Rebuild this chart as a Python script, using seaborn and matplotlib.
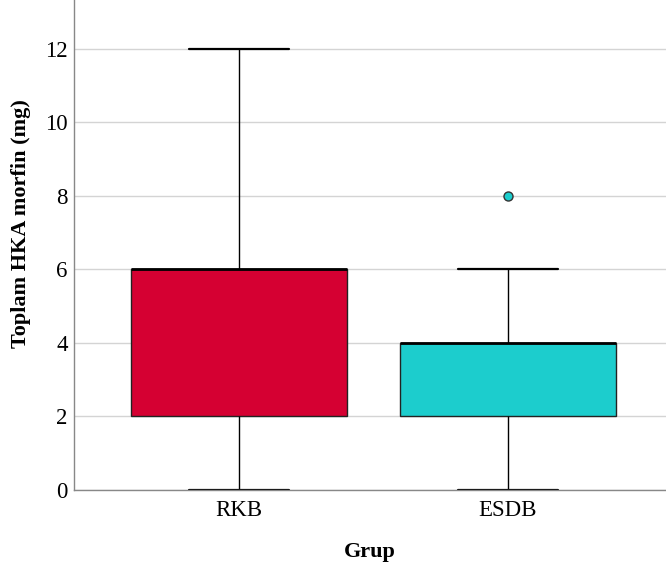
import numpy as np
import pandas as pd
import matplotlib
matplotlib.use("Agg")
import matplotlib.pyplot as plt
import seaborn as sns

# Total postoperative morphine consumption (mg) per patient, by group
groups = ["RKB", "ESDB"]
rkb_morphine = [0, 2, 2, 2, 4, 6, 6, 6, 6, 6, 6, 8, 12]
esdb_morphine = [0, 2, 2, 2, 4, 4, 4, 4, 4, 4, 4, 6, 8]
group_colors = ["#D50032", "#1CCDCD"]
y_ticks = [0, 2, 4, 6, 8, 10, 12]

df = pd.DataFrame({
    "Grup": ["RKB"] * len(rkb_morphine) + ["ESDB"] * len(esdb_morphine),
    "morfin": rkb_morphine + esdb_morphine,
})

sns.set_style("white")
plt.rcParams["font.family"] = ["Liberation Serif", "DejaVu Serif"]
plt.rcParams["text.color"] = "black"
plt.rcParams["xtick.color"] = "black"
plt.rcParams["ytick.color"] = "black"
plt.rcParams["axes.labelcolor"] = "black"

fig = plt.figure(figsize=(6.66, 5.74), dpi=100)
ax = fig.add_axes([74 / 666, 1 - 490 / 574, 1 - 74 / 666, 490 / 574])

sns.boxplot(
    data=df, x="Grup", y="morfin", hue="Grup", order=groups, hue_order=groups,
    palette=group_colors, saturation=1, width=0.8, whis=1.5, ax=ax, legend=False,
    linecolor="#222222", linewidth=1.0,
    capwidths=0.372,
    medianprops=dict(color="#000000", linewidth=2.0),
    whiskerprops=dict(color="#000000", linewidth=1.0),
    capprops=dict(color="#000000", linewidth=1.6),
    flierprops=dict(marker="o", markersize=6.5, markeredgecolor="#333333",
                    markerfacecolor="#1CCDCD", markeredgewidth=1.0),
)
for patch in ax.patches:
    patch.set_zorder(2)

ax.set_xlim(-0.613, 1.587)
ax.set_ylim(0, 13.33)
ax.set_yticks(y_ticks)
ax.set_yticklabels([str(t) for t in y_ticks], fontsize=16.5)
ax.tick_params(axis="x", labelsize=16.5, length=0, pad=7)
ax.tick_params(axis="y", length=0, pad=4.5)
ax.yaxis.grid(True, color="#d4d4d4", linewidth=1.0, zorder=0)
ax.set_axisbelow(True)

for side in ["top", "right"]:
    ax.spines[side].set_visible(False)
for side in ["left", "bottom"]:
    ax.spines[side].set_color("#888888")
    ax.spines[side].set_linewidth(1.0)

ax.set_xlabel("Grup", fontsize=16, fontweight="bold", labelpad=15)
ax.set_ylabel("Toplam HKA morfin (mg)", fontsize=16, fontweight="bold", va="center")
ax.yaxis.set_label_coords(-53 / 592, (490 - 223.5) / 490)

fig.savefig("out.png", dpi=100)
